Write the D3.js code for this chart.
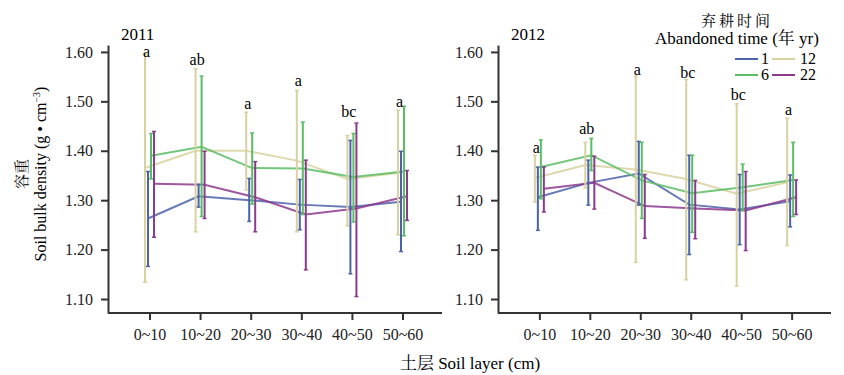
<!DOCTYPE html>
<html>
<head>
<meta charset="utf-8">
<title>Soil bulk density</title>
</head>
<body style="margin:0; background:#fff">
<svg width="844" height="375"></svg>
<script src="https://cdnjs.cloudflare.com/ajax/libs/d3/7.8.5/d3.min.js"></script>
<script>
// categories
const layers = ["0~10", "10~20", "20~30", "30~40", "40~50", "50~60"];
const yTicks = [1.10, 1.20, 1.30, 1.40, 1.50, 1.60];

// 2011 — abandoned 1, 6, 12, 22 yr (mean, lower, upper)
const mean2011_1 = [1.263, 1.308, 1.300, 1.291, 1.286, 1.297];
const lo2011_1 = [1.166, 1.286, 1.257, 1.240, 1.151, 1.196];
const hi2011_1 = [1.358, 1.332, 1.344, 1.342, 1.421, 1.399];
const mean2011_6 = [1.390, 1.408, 1.365, 1.364, 1.347, 1.358];
const lo2011_6 = [1.343, 1.267, 1.292, 1.271, 1.256, 1.228];
const hi2011_6 = [1.435, 1.551, 1.436, 1.458, 1.435, 1.490];
const mean2011_12 = [1.365, 1.400, 1.400, 1.380, 1.343, 1.355];
const lo2011_12 = [1.134, 1.236, 1.321, 1.236, 1.248, 1.230];
const hi2011_12 = [1.596, 1.566, 1.478, 1.522, 1.431, 1.482];
const mean2011_22 = [1.333, 1.331, 1.306, 1.271, 1.283, 1.308];
const lo2011_22 = [1.225, 1.263, 1.236, 1.159, 1.105, 1.259];
const hi2011_22 = [1.439, 1.399, 1.378, 1.381, 1.456, 1.360];
const letters2011 = ["a", "ab", "a", "a", "bc", "a"];
const letterLevel2011 = [1.589, 1.574, 1.485, 1.532, 1.468, 1.489];

// 2012
const mean2012_1 = [1.306, 1.335, 1.354, 1.291, 1.281, 1.298];
const lo2012_1 = [1.239, 1.290, 1.290, 1.190, 1.210, 1.246];
const hi2012_1 = [1.367, 1.381, 1.419, 1.391, 1.352, 1.351];
const mean2012_6 = [1.367, 1.391, 1.340, 1.314, 1.326, 1.341];
const lo2012_6 = [1.303, 1.360, 1.263, 1.235, 1.279, 1.267];
const hi2012_6 = [1.422, 1.425, 1.417, 1.391, 1.373, 1.417];
const mean2012_12 = [1.345, 1.371, 1.362, 1.343, 1.313, 1.336];
const lo2012_12 = [1.296, 1.325, 1.174, 1.139, 1.126, 1.208];
const hi2012_12 = [1.391, 1.417, 1.551, 1.544, 1.495, 1.466];
const mean2012_22 = [1.323, 1.335, 1.288, 1.283, 1.279, 1.306];
const lo2012_22 = [1.276, 1.282, 1.223, 1.222, 1.198, 1.271];
const hi2012_22 = [1.367, 1.389, 1.352, 1.340, 1.358, 1.341];
const letters2012 = ["a", "ab", "a", "bc", "bc", "a"];
const letterLevel2012 = [1.396, 1.434, 1.554, 1.547, 1.502, 1.473];

const FONT = "'Liberation Serif', 'Noto Serif CJK SC', serif";
const svg = d3.select("svg");

// series order inside each group (left to right): 12, 1, 6, 22
const seriesStyle = {
    "1": { color: "#4c62a9", offset: -1.5 },
    "6": { color: "#5bbd63", offset: 1.5 },
    "12": { color: "#d8d1a0", offset: -4.5 },
    "22": { color: "#8c3a8e", offset: 4.5 }
};

const panels = [
    {
        year: "2011", x0: 108, x1: 442, letters: letters2011, letterLevel: letterLevel2011,
        series: [
            { key: "12", mean: mean2011_12, lo: lo2011_12, hi: hi2011_12 },
            { key: "1", mean: mean2011_1, lo: lo2011_1, hi: hi2011_1 },
            { key: "6", mean: mean2011_6, lo: lo2011_6, hi: hi2011_6 },
            { key: "22", mean: mean2011_22, lo: lo2011_22, hi: hi2011_22 }
        ]
    },
    {
        year: "2012", x0: 498, x1: 831, letters: letters2012, letterLevel: letterLevel2012,
        series: [
            { key: "12", mean: mean2012_12, lo: lo2012_12, hi: hi2012_12 },
            { key: "1", mean: mean2012_1, lo: lo2012_1, hi: hi2012_1 },
            { key: "6", mean: mean2012_6, lo: lo2012_6, hi: hi2012_6 },
            { key: "22", mean: mean2012_22, lo: lo2012_22, hi: hi2012_22 }
        ]
    }
];

const yScale = d3.scaleLinear().domain([1.0717, 1.614]).range([313, 45]);

panels.forEach((p) => {
    const xScale = d3.scalePoint().domain(layers).range([p.x0 + 1, p.x1 + 1]).padding(0.8);
    const g = svg.append("g");

    // axes
    const yAxis = d3.axisLeft(yScale).tickValues(yTicks).tickFormat(d3.format(".2f"))
        .tickSizeInner(7).tickSizeOuter(0).tickPadding(8);
    const ya = g.append("g")
        .attr("transform", "translate(" + p.x0 + ",0)")
        .call(yAxis);
    ya.selectAll("path, line").attr("stroke", "#333").attr("stroke-width", 2);
    ya.selectAll("text").attr("font-size", 16).attr("fill", "#222");

    const xAxis = d3.axisBottom(xScale).tickSizeInner(7).tickSizeOuter(0).tickPadding(9);
    const xa = g.append("g")
        .attr("transform", "translate(0,313)")
        .call(xAxis);
    xa.select("path.domain").attr("d", "M" + p.x0 + ",0H" + p.x1);
    xa.selectAll("path, line").attr("stroke", "#333").attr("stroke-width", 2);
    xa.selectAll("text").attr("font-size", 16).attr("fill", "#222");

    // panel year
    g.append("text").attr("x", p.x0 + 13).attr("y", 40).attr("font-size", 17).text(p.year);

    // mean lines
    p.series.forEach((s) => {
        const st = seriesStyle[s.key];
        const line = d3.line()
            .x((d, i) => xScale(layers[i]) + st.offset)
            .y((d) => yScale(d));
        g.append("path")
            .attr("d", line(s.mean))
            .attr("fill", "none")
            .attr("stroke", st.color)
            .attr("stroke-width", 2)
            .attr("stroke-opacity", 0.85);
    });

    // error bars
    p.series.forEach((s) => {
        const st = seriesStyle[s.key];
        const eb = g.append("g").selectAll("g").data(layers).enter().append("g")
            .attr("stroke", st.color);
        eb.append("line")
            .attr("x1", (d) => xScale(d) + st.offset)
            .attr("x2", (d) => xScale(d) + st.offset)
            .attr("y1", (d, i) => yScale(s.lo[i]))
            .attr("y2", (d, i) => yScale(s.hi[i]))
            .attr("stroke-width", 2);
        ["lo", "hi"].forEach((k) => {
            eb.append("line")
                .attr("x1", (d) => xScale(d) + st.offset - 2)
                .attr("x2", (d) => xScale(d) + st.offset + 2)
                .attr("y1", (d, i) => yScale(s[k][i]))
                .attr("y2", (d, i) => yScale(s[k][i]))
                .attr("stroke-width", 1.5);
        });
    });

    // significance letters
    g.selectAll("text.letter").data(p.letters).enter().append("text")
        .attr("class", "letter")
        .attr("x", (d, i) => xScale(layers[i]) - 3)
        .attr("y", (d, i) => yScale(p.letterLevel[i]))
        .attr("text-anchor", "middle")
        .attr("font-size", 16)
        .text((d) => d);
});

// y axis title
svg.append("text")
    .attr("transform", "translate(27,174) rotate(-90)")
    .attr("text-anchor", "middle")
    .attr("font-size", 15)
    .text("容重");
const yt = svg.append("text")
    .attr("transform", "translate(46,174) rotate(-90)")
    .attr("text-anchor", "middle")
    .attr("font-size", 16);
yt.append("tspan").text("Soil bulk density (g • cm");
yt.append("tspan").attr("font-size", 10).attr("dy", -6).text("−3");
yt.append("tspan").attr("dy", 6).text(")");

// x axis title
svg.append("text")
    .attr("x", 470).attr("y", 369)
    .attr("text-anchor", "middle")
    .attr("font-size", 17)
    .text("土层 Soil layer (cm)");

// legend
svg.append("text").attr("x", 737).attr("y", 26).attr("text-anchor", "middle")
    .attr("font-size", 15).attr("letter-spacing", 3).text("弃耕时间");
svg.append("text").attr("x", 737).attr("y", 44).attr("text-anchor", "middle")
    .attr("font-size", 17).text("Abandoned time (年 yr)");

const legendKeys = ["1", "12", "6", "22"];
const legendRow = d3.scaleBand().domain([0, 1]).range([51, 83]);
const legendCol = d3.scaleBand().domain([0, 1]).range([735, 821]);
const lg = svg.append("g").selectAll("g").data(legendKeys).enter().append("g")
    .attr("transform", (d, i) => "translate(" + legendCol(i % 2) + "," + (legendRow(Math.floor(i / 2)) + 8) + ")");
lg.append("line")
    .attr("x1", (d, i) => (i % 2 === 0 ? 0 : -6))
    .attr("x2", (d, i) => (i % 2 === 0 ? 23 : 17))
    .attr("stroke", (d) => seriesStyle[d].color)
    .attr("stroke-width", 2);
lg.append("text")
    .attr("x", (d, i) => (i % 2 === 0 ? 26 : 22))
    .attr("y", 5)
    .attr("font-size", 16)
    .text((d) => d);

// serif everywhere, set inline
svg.selectAll("text").style("font-family", FONT).attr("font-family", null);
svg.selectAll("g").attr("font-family", null);
</script>
</body>
</html>
